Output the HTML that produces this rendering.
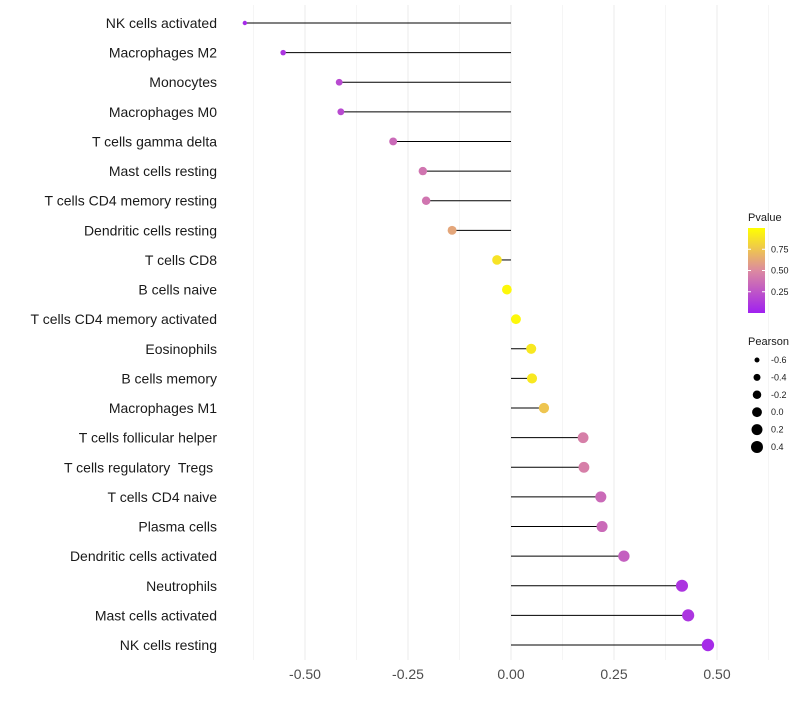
<!DOCTYPE html>
<html><head><meta charset="utf-8"><style>
body{margin:0;background:#fff;font-family:"Liberation Sans",sans-serif}
text{white-space:pre}
</style></head><body>
<svg id="chart" width="800" height="700" xmlns="http://www.w3.org/2000/svg"></svg>
<script>
const categories=["NK cells activated","Macrophages M2","Monocytes","Macrophages M0","T cells gamma delta","Mast cells resting","T cells CD4 memory resting","Dendritic cells resting","T cells CD8","B cells naive","T cells CD4 memory activated","Eosinophils","B cells memory","Macrophages M1","T cells follicular helper","T cells regulatory  Tregs ","T cells CD4 naive","Plasma cells","Dendritic cells activated","Neutrophils","Mast cells activated","NK cells resting"];
const pearson=[-0.646,-0.553,-0.417,-0.413,-0.286,-0.214,-0.206,-0.143,-0.034,-0.010,0.012,0.049,0.051,0.080,0.175,0.177,0.218,0.221,0.274,0.415,0.430,0.478];
const pvalue=[0.05,0.1,0.2,0.2,0.35,0.4,0.4,0.62,0.88,0.97,0.97,0.9,0.9,0.75,0.45,0.45,0.35,0.35,0.3,0.1,0.1,0.05];
const xTicks=[-0.5,-0.25,0,0.25,0.5];
const xTickLabels=["-0.50","-0.25","0.00","0.25","0.50"];
const colorTicks=[0.25,0.5,0.75];
const sizeTicks=[-0.6,-0.4,-0.2,0.0,0.2,0.4];

const svg=document.getElementById('chart');
const NS="http://www.w3.org/2000/svg";
function el(t,a,p){const e=document.createElementNS(NS,t);for(const k in a)e.setAttribute(k,a[k]);(p||svg).appendChild(e);return e;}
const x=v=>511+v*412;
const y=i=>23+i*(622/21);
const r=v=>Math.sqrt(Math.max(2,24.1+29.75*v));
function lerp(a,b,t){return a.map((c,i)=>Math.round(c+(b[i]-c)*t));}
function col(p){const s=[[160,32,240],[220,138,160],[255,255,0]];let c=p<0.5?lerp(s[0],s[1],p/0.5):lerp(s[1],s[2],(p-0.5)/0.5);return `rgb(${c.join(',')})`;}

for(let v=-0.625;v<=0.63;v+=0.125){const g=el('line',{x1:x(v),x2:x(v),y1:5,y2:660,stroke:'#ebebeb','stroke-width':Math.abs(v*4-Math.round(v*4))<1e-6?1:0.5});
}
xTicks.forEach((v,i)=>{const t=el('text',{x:x(v),y:679,'text-anchor':'middle','font-size':14,fill:'#4d4d4d'});t.textContent=xTickLabels[i];
});
categories.forEach((c,i)=>{
 const t=el('text',{x:217,y:y(i)+5,'text-anchor':'end','font-size':14,fill:'#1a1a1a'});t.textContent=c;
 
 const l=el('line',{x1:x(0),x2:x(pearson[i]),y1:y(i),y2:y(i),stroke:'#000','stroke-width':1});
 
 const p=el('circle',{cx:x(pearson[i]),cy:y(i),r:r(pearson[i]),fill:col(pvalue[i])});
 
});
let t=el('text',{x:748,y:221,'font-size':11,fill:'#1a1a1a'});t.textContent='Pvalue';

const defs=el('defs',{});const lg=el('linearGradient',{id:'pg',x1:0,y1:1,x2:0,y2:0},defs);
[0,0.25,0.5,0.75,1].forEach(o=>el('stop',{offset:o,'stop-color':col(o)},lg));
const cb=el('rect',{x:748,y:228,width:17,height:85,fill:'url(#pg)'});

colorTicks.forEach(v=>{const yy=313-v*85;
 el('line',{x1:748,x2:751,y1:yy,y2:yy,stroke:'#fff'});el('line',{x1:762,x2:765,y1:yy,y2:yy,stroke:'#fff'});
 const tt=el('text',{x:771,y:yy+3,'font-size':9,fill:'#1a1a1a'});tt.textContent=v.toFixed(2);
 });
t=el('text',{x:748,y:345,'font-size':11,fill:'#1a1a1a'});t.textContent='Pearson';

sizeTicks.forEach((v,i)=>{const yy=360+i*17.4;
 const c=el('circle',{cx:757,cy:yy,r:r(v),fill:'#000'});
 
 const tt=el('text',{x:771,y:yy+3,'font-size':9,fill:'#1a1a1a'});tt.textContent=v.toFixed(1);
 });
</script>
</body></html>
